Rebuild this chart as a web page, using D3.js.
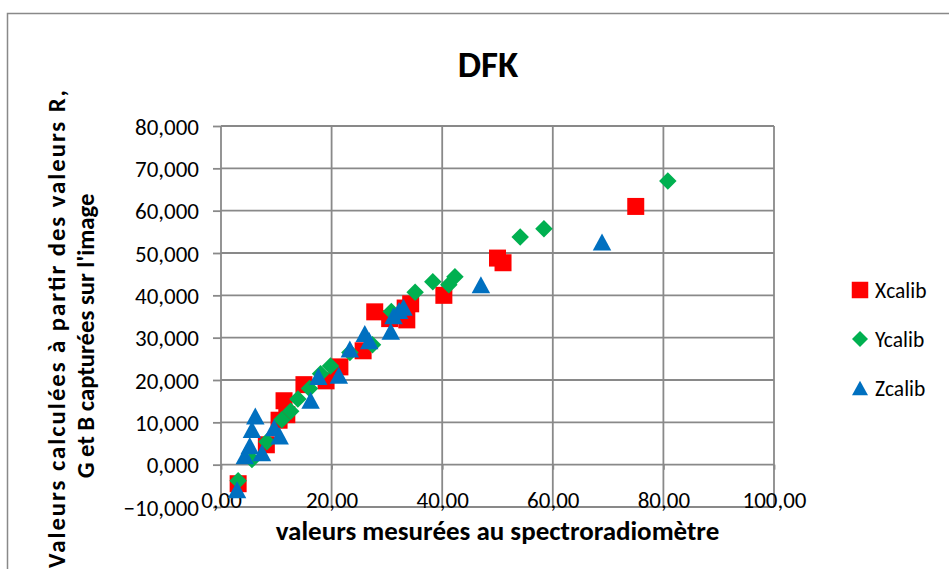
<!DOCTYPE html>
<html>
<head>
<meta charset="utf-8">
<script src="https://cdn.jsdelivr.net/npm/d3@7"></script>
<style>
  body { margin: 0; background: #fff; }
  text { font-family: Carlito, Calibri, Lato, sans-serif; fill: #000; }
</style>
</head>
<body>
<div id="container"></div>
<script>
var xcalib = [[3.1,-4.5],[8.2,4.7],[10.5,10.5],[11.9,11.8],[11.4,15.1],[15,18.9],[19,19.8],[21.5,23.1],
  [25.7,26.9],[27.8,36.1],[30.5,34.5],[33.6,34.2],[33.3,37],[34.3,38],[40.3,40],[50,48.8],[51,47.7],[75,61]];
var ycalib = [[3.1,-3.8],[5.6,1.2],[8.3,5.4],[11,10.6],[12.6,12.6],[13.9,15.5],[16,18],[18,21.5],[19.8,23.3],
  [23.3,26.5],[27.4,28.3],[30.8,36.2],[35.1,40.7],[38.3,43.2],[41.2,42.5],[42.3,44.4],[54.1,53.8],[58.4,55.7],[80.8,67]];
var zcalib = [[2.9,-5.9],[4.3,2.1],[5.2,4.5],[5.6,8.3],[6.2,11.5],[7.4,2.8],[9.6,8.7],[10.6,6.8],[16.2,15.2],
  [17.6,20.8],[21.3,21.1],[23.3,27.3],[26,31],[26.8,29.3],[30.7,31.5],[31.2,35.2],[32.2,36.4],[33,37.2],[47,42.5],[68.9,52.6]];

var seriesNames = ["Xcalib", "Ycalib", "Zcalib"];
var xTicks = [0, 20, 40, 60, 80, 100];
var yTicks = [-10, 0, 10, 20, 30, 40, 50, 60, 70, 80];

var width = 949, height = 569;
var svg = d3.select("#container").append("svg")
  .attr("width", width)
  .attr("height", height);

// outer chart border
svg.append("rect")
  .attr("x", 7.5).attr("y", 13.5)
  .attr("width", 990).attr("height", 600)
  .attr("fill", "none").attr("stroke", "#898989").attr("stroke-width", 1.5);

var x = d3.scaleLinear().domain([0, 100]).range([221, 774]);
var y = d3.scaleLinear().domain([-10, 80]).range([507, 126]);

var fmt2 = function(d) { return d3.format(".2f")(d).replace(".", ","); };
var fmt3 = function(d) { return d3.format(".3f")(d).replace(".", ","); };

// gridlines
var grid = svg.append("g").attr("stroke", "#898989").attr("stroke-width", 1.8);
grid.selectAll(".h").data(yTicks).enter().append("line")
  .attr("x1", x(0)).attr("x2", x(100))
  .attr("y1", function(d) { return y(d); }).attr("y2", function(d) { return y(d); });
grid.selectAll(".v").data(xTicks).enter().append("line")
  .attr("y1", y(-10)).attr("y2", y(80))
  .attr("x1", function(d) { return x(d); }).attr("x2", function(d) { return x(d); });

// y axis ticks + labels
var yAxis = svg.append("g")
  .attr("transform", "translate(" + x(0) + ",0)")
  .call(d3.axisLeft(y).tickValues(yTicks).tickSize(8).tickPadding(14).tickFormat(fmt3));
yAxis.select(".domain").remove();
yAxis.selectAll("line").attr("stroke", "#898989").attr("stroke-width", 1.8);
yAxis.selectAll("text").attr("font-size", 23).attr("dy", "0.35em");

// x axis labels (sit near the bottom of the plot)
var xAxis = svg.append("g")
  .attr("transform", "translate(0," + y(0) + ")")
  .call(d3.axisBottom(x).tickValues(xTicks).tickSize(5).tickPadding(0).tickFormat(fmt2));
xAxis.select(".domain").remove();
xAxis.selectAll("line").attr("stroke", "#898989").attr("stroke-width", 1.8);
xAxis.selectAll("text").attr("font-size", 23).attr("y", 35).attr("dy", "0.35em");

// title
svg.append("text")
  .attr("x", 488).attr("y", 77)
  .attr("text-anchor", "middle")
  .attr("font-size", 37).attr("font-weight", "bold")
  .text("DFK");

// axis titles
svg.append("text")
  .attr("x", (x(0) + x(100)) / 2).attr("y", 540)
  .attr("text-anchor", "middle")
  .attr("font-size", 27).attr("font-weight", "bold")
  .text("valeurs mesurées au spectroradiomètre");

var yTitle = svg.append("text")
  .attr("transform", "translate(65,336) rotate(-90)")
  .attr("font-size", 24.7).attr("font-weight", "bold");
yTitle.append("tspan").attr("x", -232).attr("y", 0)
  .attr("textLength", 478).attr("lengthAdjust", "spacing")
  .text("Valeurs calculées à partir des valeurs R,");
yTitle.append("tspan").attr("x", 0).attr("y", 29).attr("text-anchor", "middle")
  .text("G et B capturées sur l'image");

// markers
var colors = { Xcalib: "#ff0000", Ycalib: "#00b050", Zcalib: "#0070c0" };

function marker(name, s) {
  if (name == "Xcalib") return "M" + (-s / 2) + "," + (-s / 2) + "h" + s + "v" + s + "h" + (-s) + "Z";
  if (name == "Ycalib") return "M0," + (-s / 2) + "L" + (s / 2) + ",0L0," + (s / 2) + "L" + (-s / 2) + ",0Z";
  // triangle centred on its bounding box
  var h = s * 0.92;
  return "M0," + (-h / 2) + "L" + (s / 2) + "," + (h / 2) + "L" + (-s / 2) + "," + (h / 2) + "Z";
}

var allData = { Xcalib: xcalib, Ycalib: ycalib, Zcalib: zcalib };
var sizes = { Xcalib: 17, Ycalib: 17.5, Zcalib: 18.5 };

seriesNames.forEach(function(name) {
  svg.append("g").selectAll("path")
    .data(allData[name])
    .enter().append("path")
    .attr("d", marker(name, sizes[name]))
    .attr("fill", colors[name])
    .attr("transform", function(d) { return "translate(" + x(d[0]) + "," + y(d[1]) + ")"; });
});

// legend
var legend = svg.append("g").selectAll("g")
  .data(seriesNames)
  .enter().append("g")
  .attr("transform", function(d, i) { return "translate(860," + (290 + i * 49) + ")"; });

legend.append("path")
  .attr("d", function(d) { return marker(d, d == "Xcalib" ? 16.5 : 16); })
  .attr("fill", function(d) { return colors[d]; });

legend.append("text")
  .attr("x", 15)
  .attr("dy", "0.35em")
  .attr("font-size", 21.5)
  .text(function(d) { return d; });
</script>
</body>
</html>
